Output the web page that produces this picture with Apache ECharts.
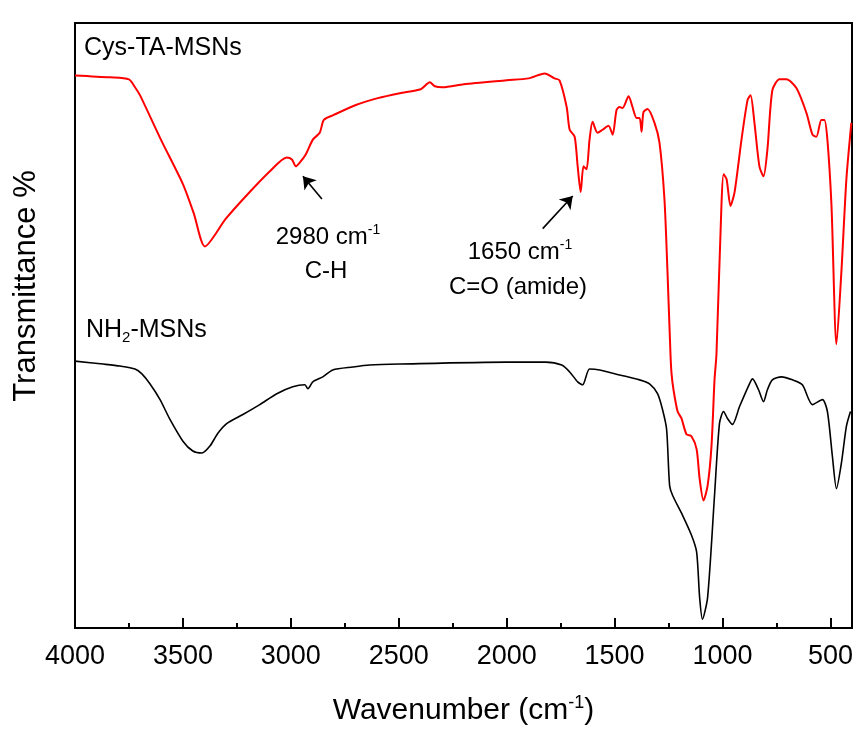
<!DOCTYPE html>
<html>
<head>
<meta charset="utf-8">
<script src="https://cdn.jsdelivr.net/npm/echarts@6/dist/echarts.min.js"></script>
<style>
  html, body { margin: 0; padding: 0; background: #fff; }
  #chart { width: 856px; height: 731px; }
</style>
</head>
<body>
<div id="chart"></div>
<script>
// Cys-TA-MSNs (red) - wavenumber / relative transmittance
var cysWave = [4000, 3838, 3750, 3722, 3699, 3602, 3500, 3449, 3398, 3301, 3199, 3097, 3019, 2995, 2977, 2958, 2931, 2898, 2866, 2847, 2801, 2699, 2597, 2495, 2398, 2356, 2333, 2296, 2199, 2000, 1898, 1824, 1778, 1755, 1722, 1708, 1685, 1671, 1657, 1644, 1630, 1616, 1602, 1579, 1556, 1528, 1509, 1491, 1477, 1463, 1435, 1417, 1398, 1384, 1375, 1366, 1347, 1315, 1292, 1269, 1255, 1241, 1236, 1227, 1208, 1190, 1167, 1144, 1120, 1106, 1088, 1069, 1051, 1037, 1028, 1005, 995, 981, 963, 944, 912, 884, 870, 852, 829, 810, 792, 769, 736, 704, 657, 611, 583, 565, 542, 528, 514, 495, 472, 449, 426, 403];
var cysT = [559, 557, 555, 547, 539, 494, 449, 419, 386, 414, 439, 462, 476, 474, 467, 471, 479, 494, 501, 514, 519, 529, 536, 541, 545, 552, 548, 547, 550, 554, 556, 561, 556, 554, 527, 504, 497, 467, 441, 467, 464, 494, 512, 501, 504, 508, 499, 524, 527, 526, 538, 527, 516, 516, 502, 522, 525, 511, 491, 434, 361, 277, 257, 241, 219, 212, 196, 194, 181, 151, 129, 144, 184, 251, 277, 427, 459, 454, 427, 441, 494, 534, 539, 511, 467, 457, 484, 544, 555, 555, 546, 521, 499, 497, 514, 514, 494, 427, 287, 361, 454, 511];

// NH2-MSNs (black)
var nhWave = [4000, 3870, 3792, 3722, 3690, 3653, 3606, 3560, 3500, 3454, 3412, 3375, 3338, 3296, 3222, 3144, 3065, 2991, 2935, 2921, 2898, 2852, 2806, 2713, 2634, 2495, 2000, 1819, 1745, 1708, 1671, 1648, 1616, 1569, 1477, 1384, 1338, 1301, 1278, 1259, 1245, 1231, 1185, 1144, 1120, 1106, 1093, 1069, 1037, 1014, 995, 977, 954, 921, 875, 861, 833, 810, 792, 769, 727, 676, 630, 583, 537, 514, 491, 472, 449, 426, 407];
var nhT = [270, 267, 265, 262, 257, 247, 231, 211, 189, 179, 177, 184, 197, 207, 216, 226, 237, 244, 246, 242, 249, 254, 261, 264, 266, 267, 269, 269, 266, 259, 249, 246, 262, 261, 256, 251, 247, 237, 221, 201, 144, 134, 114, 94, 77, 31, 9, 31, 134, 207, 219, 212, 206, 224, 247, 252, 241, 229, 241, 251, 254, 251, 246, 226, 231, 219, 174, 141, 167, 204, 219];

var tickLabels = [4000, 3500, 3000, 2500, 2000, 1500, 1000, 500];
var majorTicks = [3500, 3000, 2500, 2000, 1500, 1000, 500];
var minorTicks = [3750, 3250, 2750, 2250, 1750, 1250, 750];

// arrows: [tail, tip] in wavenumber / transmittance
var arrowCH = [[2856, 434], [2944, 457]];
var arrowCO = [[1833, 404], [1694, 437]];

function pairs(xs, ys) {
    return xs.map(function (x, i) { return [x, ys[i]]; });
}

function tickAxis(values, len) {
    return {
        type: 'value',
        min: 400, max: 4000,
        inverse: true,
        position: 'bottom',
        axisLine: { show: false },
        axisTick: { show: true, inside: true, length: len, lineStyle: { color: '#000', width: 2 }, customValues: values },
        axisLabel: { show: false, customValues: values },
        splitLine: { show: true, lineStyle: { color: 'rgba(0,0,0,0)' } }
    };
}

var chartDom = document.getElementById('chart');
var myChart = echarts.init(chartDom);
var font = 'Liberation Sans, Arial, sans-serif';
var option;

option = {
    animation: false,
    backgroundColor: '#fff',
    grid: {
        left: 75, right: 4, top: 23, bottom: 97,
        show: true, borderColor: '#000', borderWidth: 2
    },
    xAxis: [
        {
            type: 'value',
            min: 400, max: 4000,
            inverse: true,
            position: 'bottom',
            name: 'Wavenumber (cm{sup|-1})',
            nameLocation: 'middle',
            nameGap: 66,
            nameTextStyle: {
                fontSize: 30, fontFamily: font, color: '#000',
                rich: { sup: { fontSize: 18, fontFamily: font, color: '#000', padding: [0, 0, 16, 0] } }
            },
            axisLine: { lineStyle: { color: '#000', width: 2 } },
            axisTick: { show: false },
            axisLabel: {
                fontSize: 27, fontFamily: font, color: '#000', margin: 15,
                customValues: tickLabels,
                formatter: function (v) { return String(v); }
            },
            splitLine: { show: false }
        },
        tickAxis(majorTicks, 10),
        tickAxis(minorTicks, 5)
    ],
    yAxis: {
        type: 'value',
        min: 0, max: 612,
        axisLine: { show: true, lineStyle: { color: '#000', width: 2 } },
        axisTick: { show: false },
        axisLabel: { show: false },
        splitLine: { show: false }
    },
    series: [
        {
            name: 'NH2-MSNs',
            type: 'line',
            data: pairs(nhWave, nhT),
            showSymbol: false,
            smooth: 0.25,
            lineStyle: { color: '#000', width: 1.6 },
            markLine: {
                symbol: ['none', 'arrow'],
                symbolSize: 12,
                silent: true,
                label: { show: false },
                lineStyle: { color: '#000', width: 1.6, type: 'solid' },
                data: [
                    [{ coord: arrowCH[0] }, { coord: arrowCH[1] }],
                    [{ coord: arrowCO[0] }, { coord: arrowCO[1] }]
                ]
            }
        },
        {
            name: 'Cys-TA-MSNs',
            type: 'line',
            data: pairs(cysWave, cysT),
            showSymbol: false,
            smooth: 0.25,
            lineStyle: { color: '#ff0000', width: 2 }
        }
    ],
    graphic: [
        {
            type: 'text', x: 26, y: 286, rotation: Math.PI / 2,
            style: { text: 'Transmittance %', fontSize: 31, fontFamily: font, fill: '#000', align: 'center', verticalAlign: 'middle' }
        },
        {
            type: 'text', left: 84, top: 36,
            style: { text: 'Cys-TA-MSNs', fontSize: 25, fontFamily: font, fill: '#000' }
        },
        {
            type: 'text', left: 86, top: 318,
            style: {
                text: 'NH{sub|2}-MSNs', fontSize: 25, fontFamily: font, fill: '#000',
                rich: { sub: { fontSize: 15, fontFamily: font, fill: '#000', padding: [14, 0, 0, 0] } }
            }
        },
        {
            type: 'text', x: 328, y: 237,
            style: {
                text: '2980 cm{s|-1}', fontSize: 24, fontFamily: font, fill: '#000',
                align: 'center', verticalAlign: 'middle',
                rich: { s: { fontSize: 14, fontFamily: font, fill: '#000', padding: [0, 0, 14, 0] } }
            }
        },
        {
            type: 'text', x: 326, y: 271,
            style: { text: 'C-H', fontSize: 24, fontFamily: font, fill: '#000', align: 'center', verticalAlign: 'middle' }
        },
        {
            type: 'text', x: 520, y: 252,
            style: {
                text: '1650 cm{s|-1}', fontSize: 24, fontFamily: font, fill: '#000',
                align: 'center', verticalAlign: 'middle',
                rich: { s: { fontSize: 14, fontFamily: font, fill: '#000', padding: [0, 0, 14, 0] } }
            }
        },
        {
            type: 'text', x: 518, y: 287,
            style: { text: 'C=O (amide)', fontSize: 24, fontFamily: font, fill: '#000', align: 'center', verticalAlign: 'middle' }
        }
    ]
};

option && myChart.setOption(option);
</script>
</body>
</html>
